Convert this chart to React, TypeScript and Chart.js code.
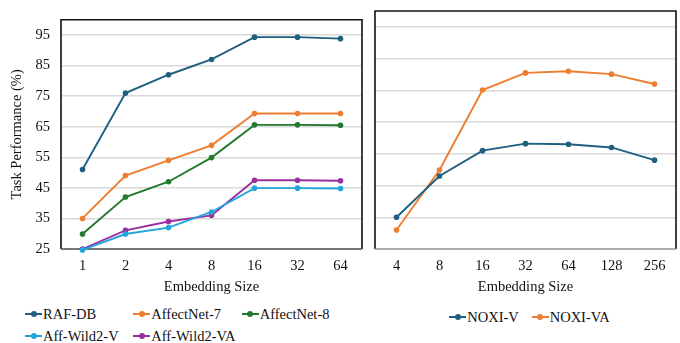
import React, { useEffect, useRef } from 'react';
import { Chart, registerables } from 'chart.js';

Chart.register(...registerables);

const leftSizes = ['1', '2', '4', '8', '16', '32', '64'];
const rafDb = [51, 76, 82, 87, 94.3, 94.3, 93.8];
const affectNet7 = [35, 49, 54, 58.9, 69.3, 69.3, 69.3];
const affectNet8 = [29.9, 42, 47, 54.9, 65.6, 65.6, 65.5];
const affWild2V = [24.7, 29.9, 32, 37.1, 44.9, 44.9, 44.8];
const affWild2VA = [25, 31.1, 34, 36, 47.5, 47.5, 47.3];

const rightSizes = ['4', '8', '16', '32', '64', '128', '256'];
const noxiV = [35, 48, 56, 58.2, 58, 57, 53];
const noxiVA = [31, 49.9, 75.1, 80.5, 81, 80.1, 77];

const yMin = 25;
const yMax = 100;
const yTickValues = [25, 35, 45, 55, 65, 75, 85, 95];

const FONT = "'Liberation Serif', 'Times New Roman', Times, serif";
const TEXT = '#111';

const leftSeries = [
  { label: 'RAF-DB', data: rafDb, color: '#1F5F80' },
  { label: 'AffectNet-7', data: affectNet7, color: '#ED7D31' },
  { label: 'AffectNet-8', data: affectNet8, color: '#237A2E' },
  { label: 'Aff-Wild2-V', data: affWild2V, color: '#22A5DC' },
  { label: 'Aff-Wild2-VA', data: affWild2VA, color: '#9B2E9E' },
];
const rightSeries = [
  { label: 'NOXI-V', data: noxiV, color: '#1F5F80' },
  { label: 'NOXI-VA', data: noxiVA, color: '#ED7D31' },
];

function boxPlugin(bottomColor: string) {
  return {
    id: 'box',
    beforeDatasetsDraw(chart: any) {
      const { ctx, chartArea: a } = chart;
      ctx.save();
      ctx.lineWidth = 1.6;
      ctx.strokeStyle = '#111';
      ctx.beginPath();
      ctx.moveTo(a.left, a.bottom);
      ctx.lineTo(a.left, a.top);
      ctx.lineTo(a.right, a.top);
      ctx.lineTo(a.right, a.bottom);
      ctx.stroke();
      ctx.strokeStyle = bottomColor;
      ctx.beginPath();
      ctx.moveTo(a.left, a.bottom);
      ctx.lineTo(a.right, a.bottom);
      ctx.stroke();
      ctx.restore();
    },
  };
}

function makeChart(
  canvas: HTMLCanvasElement,
  labels: string[],
  series: { label: string; data: number[]; color: string }[],
  showY: boolean,
  yWidth: number,
  padRight: number,
  bottomColor: string
) {
  return new Chart(canvas, {
    type: 'line',
    data: {
      labels,
      datasets: series.map((s) => ({
        label: s.label,
        data: s.data,
        borderColor: s.color,
        backgroundColor: s.color,
        pointBackgroundColor: s.color,
        pointBorderColor: s.color,
        borderWidth: 1.9,
        pointRadius: 2.8,
        pointBorderWidth: 0,
        tension: 0,
        clip: false as any,
      })),
    },
    options: {
      animation: false,
      responsive: false,
      devicePixelRatio: 1,
      layout: { padding: { top: 11, right: padRight, left: 0, bottom: 0 } },
      plugins: { legend: { display: false }, tooltip: { enabled: false } },
      scales: {
        x: {
          type: 'category',
          offset: true,
          grid: { display: false, drawTicks: false },
          border: { display: false },
          ticks: { color: TEXT, padding: 8, font: { family: FONT, size: 14.5 } },
          title: {
            display: true,
            text: 'Embedding Size',
            color: TEXT,
            padding: { top: 0, bottom: 4.6 },
            font: { family: FONT, size: 14.5 },
          },
          afterFit: (scale: any) => {
            scale.height = 51;
          },
        },
        y: {
          min: yMin,
          max: yMax,
          grid: { color: '#D9D9D9', lineWidth: 1.5, drawTicks: false },
          border: { display: false },
          ticks: {
            display: showY,
            padding: 11,
            color: TEXT,
            font: { family: FONT, size: 14.5 },
          },
          afterBuildTicks: (scale: any) => {
            scale.ticks = yTickValues.map((v) => ({ value: v }));
          },
          title: {
            display: showY,
            text: 'Task Performance (%)',
            color: TEXT,
            padding: { top: 8, bottom: 0 },
            font: { family: FONT, size: 14.5 },
          },
          afterFit: (scale: any) => {
            scale.width = yWidth;
          },
        },
      },
    },
    plugins: [boxPlugin(bottomColor)],
  } as any);
}

function LegendItem({ label, color, x, y }: { label: string; color: string; x: number; y: number }) {
  return (
    <div
      style={{
        position: 'absolute',
        left: x,
        top: y - 10,
        height: 20,
        display: 'flex',
        alignItems: 'center',
        whiteSpace: 'nowrap',
        fontFamily: FONT,
        fontSize: 14.5,
        color: TEXT,
      }}
    >
      <span style={{ position: 'relative', width: 17, height: 20, display: 'inline-block', marginRight: 1 }}>
        <span
          style={{ position: 'absolute', left: 0, width: 17, top: 9, height: 2, background: color }}
        />
        <span
          style={{
            position: 'absolute',
            left: 5.5,
            top: 7,
            width: 6,
            height: 6,
            borderRadius: 3,
            background: color,
          }}
        />
      </span>
      <span>{label}</span>
    </div>
  );
}

export default function App() {
  const leftRef = useRef<HTMLCanvasElement>(null);
  const rightRef = useRef<HTMLCanvasElement>(null);

  useEffect(() => {
    const c1 = makeChart(leftRef.current!, leftSizes, leftSeries, true, 61, 6, '#555');
    const c2 = makeChart(rightRef.current!, rightSizes, rightSeries, false, 7, 4, '#999');
    return () => {
      c1.destroy();
      c2.destroy();
    };
  }, []);

  const leftCols = [25, 133.3, 241.7];
  const leftRows = [314.3, 336];

  return (
    <div style={{ position: 'fixed', left: 0, top: 0, width: 680, height: 343, background: '#fff', overflow: 'hidden' }}>
      <canvas
        ref={leftRef}
        width={368}
        height={300}
        style={{ position: 'absolute', left: 0, top: 0, width: 368, height: 300 }}
      />
      <canvas
        ref={rightRef}
        width={312}
        height={300}
        style={{ position: 'absolute', left: 368, top: 0, width: 312, height: 300 }}
      />
      {leftSeries.map((s, i) => (
        <LegendItem
          key={s.label}
          label={s.label}
          color={s.color}
          x={leftCols[i % 3]}
          y={leftRows[Math.floor(i / 3)]}
        />
      ))}
      {rightSeries.map((s, i) => (
        <LegendItem key={s.label} label={s.label} color={s.color} x={[449.3, 531.7][i]} y={317.3} />
      ))}
    </div>
  );
}
